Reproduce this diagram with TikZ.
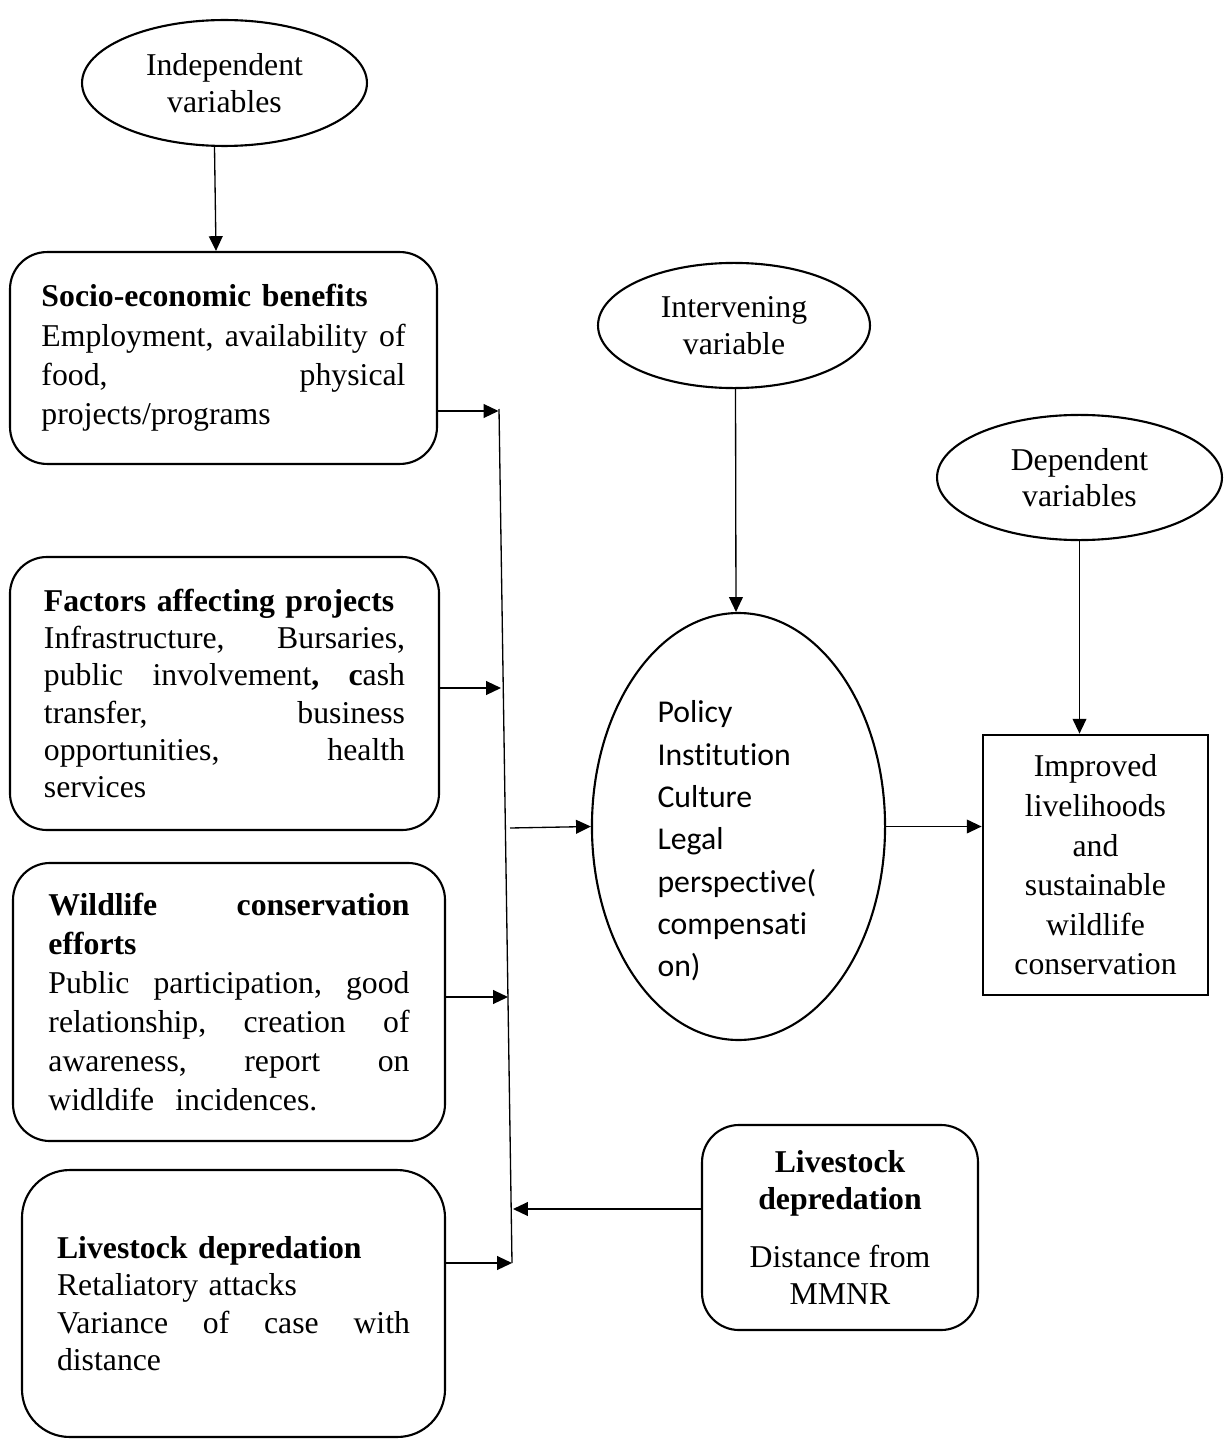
\documentclass[tikz,border=0pt]{standalone}
\usepackage{fontspec}
\setmainfont{Liberation Serif}
\newfontfamily\calibrifont[Ligatures=NoCommon]{Carlito}
\usetikzlibrary{arrows.meta,shapes.geometric,calc}
\begin{document}
\begin{tikzpicture}[x=0.378pt,y=-0.378pt,
  conn/.style={line width=0.5pt},
  arr/.style={conn,-{Triangle[length=5.6pt,width=5.2pt]}},
  rbox/.style={draw, line width=0.8pt, rounded corners=14pt, inner sep=0pt, align=left},
  oval/.style={draw, ellipse, line width=0.8pt, inner sep=0pt, align=center, font=\fontsize{12}{13.8}\selectfont},
]
\useasboundingbox (0,0) rectangle (1228,1441);

% ellipses
\node[oval, minimum width=107.7pt, minimum height=47.6pt] (indep) at (224.5,83) {Independent\\variables};
\node[oval, minimum width=102.8pt, minimum height=47.3pt] (interv) at (734,325.5) {Intervening\\variable};
\node[oval, minimum width=107.7pt, minimum height=47.3pt] (dep) at (1079.5,477.5) {Dependent\\variables};
\node[draw, ellipse, line width=0.8pt, inner sep=0pt, minimum width=110.8pt, minimum height=161.4pt] (pol) at (738.5,826.5) {};
\node[anchor=west, inner sep=0pt, align=left, font=\calibrifont\fontsize{12}{16}\selectfont] (poltxt) at (657,841)
  {Policy\\Institution\\Culture\\Legal\\perspective(\\compensati\\on)};

% left boxes
\node[rbox, minimum width=161.4pt, minimum height=80.1pt, text width=137.6pt, font=\fontsize{12}{14.85}\selectfont] (b1) at (223.5,358)
  {\textbf{Socio-economic benefits}\\
   Employment, \hfill availability \hfill of\\
   food, \hfill physical\\
   projects/programs};
\node[rbox, minimum width=162.2pt, minimum height=103.2pt, text width=136.5pt, font=\fontsize{12}{14.06}\selectfont] (b2) at (224.5,693.5)
  {\textbf{Factors affecting projects}\\
   Infrastructure, \hfill Bursaries,\\
   public \hfill involvement\textbf{,} \hfill \textbf{c}ash\\
   transfer, \hfill business\\
   opportunities, \hfill health\\
   services};
\node[rbox, minimum width=163.3pt, minimum height=105.1pt, text width=136.5pt, font=\fontsize{12}{14.8}\selectfont] (b3) at (229,1002)
  {\textbf{Wildlife} \hfill \textbf{conservation}\\
   \textbf{efforts}\\
   Public \hfill participation, \hfill good\\
   relationship, \hfill creation \hfill of\\
   awareness, \hfill report \hfill on\\
   widldife\ \ incidences.};
\node[rbox, rounded corners=18pt, minimum width=159.9pt, minimum height=100.9pt, text width=133.4pt, font=\fontsize{12}{14.1}\selectfont] (b4) at (233.5,1303.5)
  {\textbf{Livestock depredation}\\
   Retaliatory attacks\\
   Variance \hfill of \hfill case \hfill with\\
   distance};

% right boxes
\node[rbox, align=center, minimum width=104.3pt, minimum height=77.5pt, font=\fontsize{12}{14}\selectfont] (lr) at (840,1227.5)
  {\textbf{Livestock}\\\textbf{depredation}\\[8pt]Distance from\\MMNR};
\node[draw, line width=1pt, inner sep=0pt, align=center, minimum width=85.1pt, minimum height=98.3pt, font=\fontsize{12}{14.95}\selectfont] (imp) at (1095.5,865)
  {Improved\\livelihoods\\and\\sustainable\\wildlife\\conservation};

% collector line
\coordinate (vtop) at (499,409);
\coordinate (vbot) at (512,1263);
\coordinate (in1) at (498.5,411);
\coordinate (in2) at (501,688);
\coordinate (in3) at (508,997);
\coordinate (in4) at (512,1263);
\coordinate (in5) at (513,1209);
\coordinate (out) at (510,828);
\draw[conn] (vtop) -- (vbot);

\draw[arr] (b1.east |- in1) -- (in1);
\draw[arr] (b2.east |- in2) -- (in2);
\draw[arr] (b3.east |- in3) -- (in3);
\draw[arr] (b4.east |- in4) -- (in4);
\draw[arr] (lr.west |- in5) -- (in5);
\draw[arr] (out) -- (pol.west);

\draw[arr] ($(indep.south)+(-10,0)$) -- ($(b1.north)+(-7.5,0)$);
\draw[arr] ($(interv.south)+(1.5,0)$) -- ($(pol.north)+(-2.5,0)$);
\draw[arr] (dep.south) -- (dep.south |- imp.north);
\draw[arr] (pol.east) -- (pol.east -| imp.west);
\end{tikzpicture}
\end{document}
